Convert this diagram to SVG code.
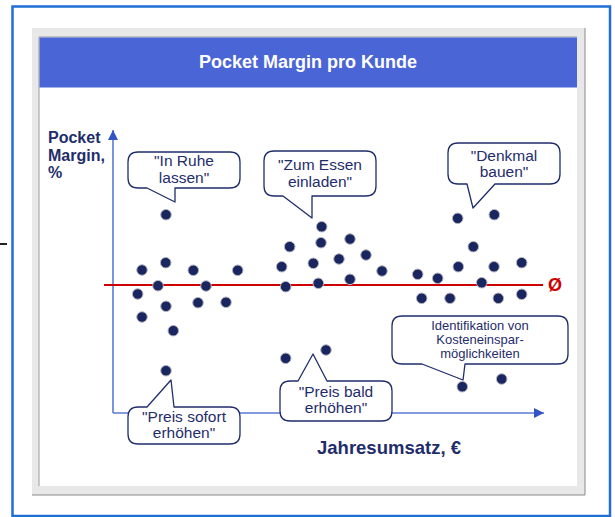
<svg xmlns="http://www.w3.org/2000/svg" width="615" height="517" viewBox="0 0 615 517">
  <defs>
    <style>
      .bub { fill: #ffffff; stroke: #1f2d6b; stroke-width: 1.3; stroke-linejoin: round; }
      .bt { font-family: "Liberation Sans", Arial, sans-serif; font-size: 15.5px; fill: #1f2d6b; text-anchor: middle; }
      .bts { font-family: "Liberation Sans", Arial, sans-serif; font-size: 13px; fill: #1f2d6b; text-anchor: middle; }
      .lbl { font-family: "Liberation Sans", Arial, sans-serif; font-weight: bold; fill: #1f2d6b; }
      .dot { fill: #1a2660; stroke: #b8b8c0; stroke-width: 1; }
      .axis { stroke: #5b7bd5; stroke-width: 1.6; fill: none; }
    </style>
    <marker id="arr" viewBox="0 0 10 10" refX="10" refY="5" markerWidth="10" markerHeight="10" markerUnits="userSpaceOnUse" orient="auto">
      <path d="M0,0 L10,5 L0,10 Z" fill="#3354c4"/>
    </marker>
  </defs>

  <!-- outer frame -->
  <rect x="12.5" y="6.5" width="597.5" height="509.5" fill="#ffffff" stroke="#1f6fd6" stroke-width="2.5"/>
  <line x1="0" y1="244" x2="7" y2="244" stroke="#222" stroke-width="2"/>

  <!-- panel -->
  <rect x="32" y="28" width="553" height="467" fill="#e8e8e8"/>
  <path d="M585,28 V495 H32" fill="none" stroke="#8a8a8a" stroke-width="1"/>
  <rect x="39" y="37" width="538" height="449" fill="#ffffff"/>
  <path d="M39,486 V37 H577" fill="none" stroke="#9a9a9a" stroke-width="1"/>
  <rect x="39.5" y="37.5" width="537.5" height="50" fill="#4a65d5"/>
  <text x="308" y="68" text-anchor="middle" font-family="Liberation Sans, Arial, sans-serif" font-weight="bold" font-size="18" fill="#ffffff">Pocket Margin pro Kunde</text>

  <!-- axes and average line -->
  <g id="connectors">
    <polyline class="axis" points="113,413 113,130" marker-end="url(#arr)"/>
    <polyline class="axis" points="113,413 544,413" marker-end="url(#arr)"/>
    <line x1="104" y1="285" x2="543" y2="285" stroke="#cc0000" stroke-width="2"/>
  </g>
  <text x="548" y="291" font-family="Liberation Sans, Arial, sans-serif" font-weight="bold" font-size="18" fill="#cc0000">Ø</text>

  <g id="y-label" class="lbl" font-size="16">
    <text x="48" y="143">Pocket</text>
    <text x="48" y="161">Margin,</text>
    <text x="48" y="178">%</text>
  </g>
  <text id="x-label" class="lbl" x="317" y="454" font-size="18.5">Jahresumsatz, €</text>

  <!-- dots -->
  <g id="dots">
    <circle class="dot" cx="166" cy="214.7" r="5.3"/>
    <circle class="dot" cx="142" cy="270" r="5.3"/>
    <circle class="dot" cx="165.7" cy="262.7" r="5.3"/>
    <circle class="dot" cx="193.3" cy="270.3" r="5.3"/>
    <circle class="dot" cx="237.7" cy="270.3" r="5.3"/>
    <circle class="dot" cx="158" cy="285.7" r="5.3"/>
    <circle class="dot" cx="206" cy="286" r="5.3"/>
    <circle class="dot" cx="137.7" cy="294" r="5.3"/>
    <circle class="dot" cx="166" cy="306.3" r="5.3"/>
    <circle class="dot" cx="198" cy="302.7" r="5.3"/>
    <circle class="dot" cx="226" cy="302.3" r="5.3"/>
    <circle class="dot" cx="142" cy="317" r="5.3"/>
    <circle class="dot" cx="173.3" cy="330.7" r="5.3"/>
    <circle class="dot" cx="166" cy="370.7" r="5.3"/>

    <circle class="dot" cx="289.7" cy="246.7" r="5.3"/>
    <circle class="dot" cx="281.7" cy="266.7" r="5.3"/>
    <circle class="dot" cx="285.7" cy="286.7" r="5.3"/>
    <circle class="dot" cx="321.7" cy="226.7" r="5.3"/>
    <circle class="dot" cx="321" cy="242.7" r="5.3"/>
    <circle class="dot" cx="350" cy="239" r="5.3"/>
    <circle class="dot" cx="313.3" cy="263.3" r="5.3"/>
    <circle class="dot" cx="339" cy="259" r="5.3"/>
    <circle class="dot" cx="366" cy="255" r="5.3"/>
    <circle class="dot" cx="382" cy="271" r="5.3"/>
    <circle class="dot" cx="318.3" cy="283.3" r="5.3"/>
    <circle class="dot" cx="350" cy="279.3" r="5.3"/>
    <circle class="dot" cx="285.7" cy="358.3" r="5.3"/>
    <circle class="dot" cx="326" cy="350" r="5.3"/>

    <circle class="dot" cx="417.7" cy="274.3" r="5.3"/>
    <circle class="dot" cx="437.7" cy="278.3" r="5.3"/>
    <circle class="dot" cx="457.7" cy="218.3" r="5.3"/>
    <circle class="dot" cx="494.3" cy="214.7" r="5.3"/>
    <circle class="dot" cx="473.3" cy="246.7" r="5.3"/>
    <circle class="dot" cx="458.3" cy="266.7" r="5.3"/>
    <circle class="dot" cx="494" cy="266.7" r="5.3"/>
    <circle class="dot" cx="521.7" cy="262.7" r="5.3"/>
    <circle class="dot" cx="481.7" cy="282.7" r="5.3"/>
    <circle class="dot" cx="421.7" cy="298.3" r="5.3"/>
    <circle class="dot" cx="450" cy="298.3" r="5.3"/>
    <circle class="dot" cx="498.3" cy="298.3" r="5.3"/>
    <circle class="dot" cx="521.7" cy="294.3" r="5.3"/>
    <circle class="dot" cx="462.3" cy="386.7" r="5.3"/>
    <circle class="dot" cx="501.7" cy="379" r="5.3"/>
  </g>

  <!-- speech bubbles -->
  <g id="bubble-ruhe">
    <path class="bub" d="M138,152 H230 Q240,152 240,162 V178 Q240,188 230,188 H175 V202 L147,188 H138 Q128,188 128,178 V162 Q128,152 138,152 Z"/>
    <text class="bt" x="184" y="166">"In Ruhe</text>
    <text class="bt" x="184" y="183">lassen"</text>
  </g>
  <g id="bubble-essen">
    <path class="bub" d="M274,151 H366 Q376,151 376,161 V186 Q376,196 366,196 H312 V218 L283,196 H274 Q264,196 264,186 V161 Q264,151 274,151 Z"/>
    <text class="bt" x="320" y="170">"Zum Essen</text>
    <text class="bt" x="320" y="187">einladen"</text>
  </g>
  <g id="bubble-denkmal">
    <path class="bub" d="M458,143 H550 Q560,143 560,153 V174 Q560,184 550,184 H495 L473,208 L467,184 H458 Q448,184 448,174 V153 Q448,143 458,143 Z"/>
    <text class="bt" x="504" y="161">"Denkmal</text>
    <text class="bt" x="504" y="177">bauen"</text>
  </g>
  <g id="bubble-sofort">
    <path class="bub" d="M138,407 H147 L171,380 L174,407 H230 Q240,407 240,417 V434 Q240,444 230,444 H138 Q128,444 128,434 V417 Q128,407 138,407 Z"/>
    <text class="bt" x="184" y="422">"Preis sofort</text>
    <text class="bt" x="184" y="438">erhöhen"</text>
  </g>
  <g id="bubble-bald">
    <path class="bub" d="M290,381 H298 L313,354 L327,381 H382 Q392,381 392,391 V411 Q392,421 382,421 H290 Q280,421 280,411 V391 Q280,381 290,381 Z"/>
    <text class="bt" x="336" y="397">"Preis bald</text>
    <text class="bt" x="336" y="413">erhöhen"</text>
  </g>
  <g id="bubble-kosten">
    <path class="bub" d="M402,316 H558 Q568,316 568,326 V354 Q568,364 558,364 H465 L463,380 L422,364 H402 Q392,364 392,354 V326 Q392,316 402,316 Z"/>
    <text class="bts" x="480" y="330">Identifikation von</text>
    <text class="bts" x="480" y="344">Kosteneinspar-</text>
    <text class="bts" x="480" y="358">möglichkeiten</text>
  </g>
</svg>
